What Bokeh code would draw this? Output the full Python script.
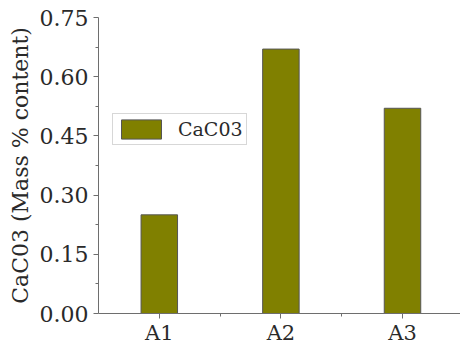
from bokeh.plotting import figure
from bokeh.models import ColumnDataSource, FixedTicker, Legend, LegendItem
from bokeh.embed import file_html
from bokeh.resources import INLINE

# Samples and measured CaC03 content (mass %)
samples = ["A1", "A2", "A3"]
caco3 = [0.25, 0.67, 0.52]
y_ticks = [0.0, 0.15, 0.30, 0.45, 0.60, 0.75]
series_name = "CaC03"
y_title = "CaC03 (Mass % content)"

xpos = list(range(1, len(samples) + 1))
src = ColumnDataSource(dict(x=xpos, v=caco3, name=samples))

FONT = "DejaVu Serif"
TEXT = "#2a2a2a"
AXIS = "#6e6e6e"

p = figure(width=460, height=347, output_backend="svg", toolbar_location=None,
           x_range=(0.5, 3.477), y_range=(0, 0.75),
           min_border_left=98, min_border_right=0, min_border_top=17,
           min_border_bottom=34)
p.outline_line_color = None
p.grid.visible = False
p.background_fill_color = "white"
p.border_fill_color = "white"

bars = p.vbar(x="x", top="v", width=0.3, bottom=0, source=src,
              fill_color="#808000", line_color="#555555", line_width=1)

# x axis: categories at integer positions, minor ticks between them
p.xaxis.ticker = FixedTicker(ticks=xpos,
                             minor_ticks=[i + 0.5 for i in xpos[:-1]])
p.xaxis.major_label_overrides = {i: s for i, s in zip(xpos, samples)}
p.xaxis.major_label_text_font = FONT
p.xaxis.major_label_text_font_size = "21px"
p.xaxis.major_label_text_color = TEXT
p.xaxis.major_label_standoff = 2
p.xaxis.major_tick_in = 0
p.xaxis.major_tick_out = 5
p.xaxis.minor_tick_in = 0
p.xaxis.minor_tick_out = 3
p.xaxis.axis_line_color = AXIS
p.xaxis.major_tick_line_color = AXIS
p.xaxis.minor_tick_line_color = AXIS

# y axis
p.yaxis.ticker = FixedTicker(ticks=y_ticks,
                             minor_ticks=[t + 0.075 for t in y_ticks[:-1]])
p.yaxis.major_label_overrides = {t: f"{t:.2f}" for t in y_ticks}
p.yaxis.major_label_text_font = FONT
p.yaxis.major_label_text_font_size = "22px"
p.yaxis.major_label_text_color = TEXT
p.yaxis.major_label_standoff = 5
p.yaxis.major_tick_in = 0
p.yaxis.major_tick_out = 5
p.yaxis.minor_tick_in = 0
p.yaxis.minor_tick_out = 3
p.yaxis.axis_line_color = AXIS
p.yaxis.major_tick_line_color = AXIS
p.yaxis.minor_tick_line_color = AXIS
p.yaxis.axis_label = y_title
p.yaxis.axis_label_text_font = FONT
p.yaxis.axis_label_text_font_size = "22px"
p.yaxis.axis_label_text_font_style = "normal"
p.yaxis.axis_label_text_color = TEXT
p.yaxis.axis_label_standoff = 4

legend = Legend(items=[LegendItem(label=series_name, renderers=[bars])],
                location=(14, 168), padding=3, margin=0, spacing=0,
                glyph_width=50, glyph_height=24, label_standoff=12,
                label_text_font=FONT, label_text_font_size="19px",
                label_text_color=TEXT, border_line_color="#b0b0b0",
                border_line_width=1, background_fill_alpha=1)
p.add_layout(legend, "center")

open("out.html", "w").write(file_html(p, INLINE))
